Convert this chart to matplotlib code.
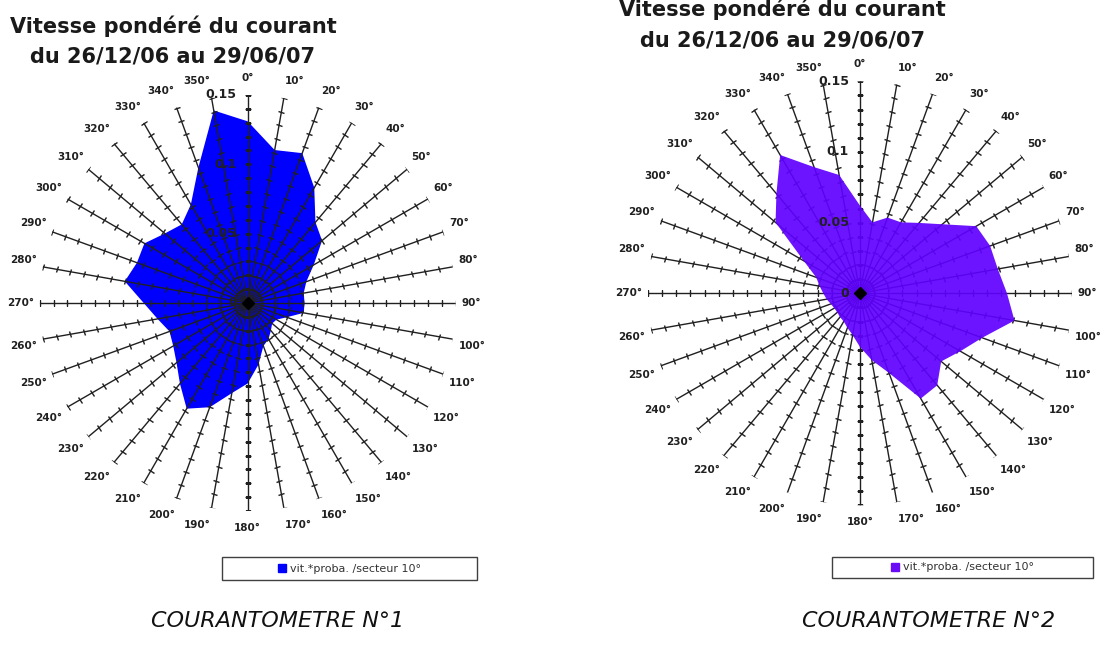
import numpy as np
import matplotlib.pyplot as plt
from matplotlib.markers import MarkerStyle
from matplotlib.transforms import Affine2D
from matplotlib.patches import Patch, Rectangle

# directions (degrés) et vitesse pondérée par secteur de 10°
secteurs = list(range(0, 360, 10))
courant1 = [0.131, 0.112, 0.115, 0.096, 0.076, 0.070, 0.055, 0.045, 0.041,
            0.041, 0.041, 0.030, 0.024, 0.023, 0.026, 0.030, 0.033, 0.045,
            0.058, 0.066, 0.080, 0.088, 0.076, 0.067, 0.062, 0.060, 0.066,
            0.075, 0.090, 0.085, 0.086, 0.078, 0.074, 0.082, 0.104, 0.141]
courant2 = [0.062, 0.051, 0.057, 0.058, 0.065, 0.076, 0.095, 0.098, 0.099,
            0.104, 0.111, 0.092, 0.082, 0.075, 0.085, 0.086, 0.060, 0.048,
            0.038, 0.030, 0.026, 0.023, 0.022, 0.021, 0.021, 0.022, 0.024,
            0.026, 0.029, 0.033, 0.046, 0.078, 0.092, 0.113, 0.095, 0.085]
graduations = [0, 0.05, 0.1, 0.15]
graduations_txt = ["0", "0.05", "0.1", "0.15"]
titre = ["Vitesse pondéré du courant", "du 26/12/06 au 29/06/07"]
legende = "vit.*proba. /secteur 10°"
noms = ["COURANTOMETRE N°1", "COURANTOMETRE N°2"]

RMAX = 0.15
W, H = 1102, 651
police = ['Liberation Sans Narrow', 'DejaVu Sans']

fig = plt.figure(figsize=(W / 100, H / 100), dpi=100)
fig.patch.set_facecolor('white')


def rose(cx, cy, R, valeurs, couleur, alpha, rayons_dessus):
    ax = fig.add_axes([(cx - R) / W, 1 - (cy + R) / H, 2 * R / W, 2 * R / H],
                      projection='polar')
    ax.set_theta_zero_location('N')
    ax.set_theta_direction(-1)
    ax.set_ylim(0, RMAX)
    ax.grid(False)
    ax.set_xticks([])
    ax.set_yticks([])
    ax.spines['polar'].set_visible(False)
    ax.patch.set_alpha(0)

    th = np.radians(secteurs + [secteurs[0]])
    ax.fill(th, valeurs + [valeurs[0]], color=couleur, alpha=alpha,
            lw=0, zorder=2)

    z = 3 if rayons_dessus else 1
    crans = np.arange(0.01, RMAX + 0.001, 0.01)
    for a in secteurs:
        t = np.radians(a)
        ax.plot([t, t], [0, RMAX], color='#202020', lw=1.0, zorder=z)
        m = MarkerStyle('|', transform=Affine2D().rotate_deg(90 - a))
        ax.plot([t] * len(crans), crans, ls='none', marker=m, ms=5,
                mec='#202020', mew=1.0, zorder=z)
        # étiquette de direction au bout du rayon
        s, c = np.sin(t), np.cos(t)
        ha = 'left' if s > 0.1 else ('right' if s < -0.1 else 'center')
        va = 'bottom' if c > 0.1 else ('top' if c < -0.1 else 'center')
        ax.annotate(f"{a}°", (t, RMAX), xytext=(6 * s, 12 * c),
                    textcoords='offset pixels', ha=ha, va=va,
                    fontsize=7.5, fontweight='bold', family=police,
                    color='#202020')

    # centre sombre
    ax.plot(0, 0, marker='D', ms=6, color='black', zorder=5)

    for g, txt in zip(graduations, graduations_txt):
        ax.annotate(txt, (0, g), xytext=(-11, 0), textcoords='offset pixels',
                    ha='right', va='center', fontsize=9, fontweight='bold',
                    family=police, color='#202020', zorder=4)
    return ax


rose(247.7, 303, 208, courant1, '#0000ff', 1.0, True)
rose(860, 293.3, 212, courant2, '#5f00ff', 0.92, False)

# titres
for x, y0 in [(173, 26), (782, 9)]:
    for i, ligne in enumerate(titre):
        fig.text(x / W, 1 - (y0 + 31 * i) / H, ligne, ha='center',
                 va='center', fontsize=15, fontweight='bold', color='#1a1a1a')

# légendes encadrées
for (x0, x1, y0, y1), couleur in [((222, 477, 557, 580), '#0000ff'),
                                  ((832, 1093, 557, 578), '#6b0af5')]:
    fig.patches.append(Rectangle((x0 / W, 1 - y1 / H), (x1 - x0) / W,
                                 (y1 - y0) / H, transform=fig.transFigure,
                                 fill=False, ec='#404040', lw=1))
    fig.legend(handles=[Patch(color=couleur, label=legende)],
               loc='center', bbox_to_anchor=((x0 + x1) / 2 / W,
                                             1 - (y0 + y1) / 2 / H),
               frameon=False, fontsize=8, handlelength=0.7,
               handleheight=0.7, handletextpad=0.4, borderpad=0,
               labelcolor='#333333')

# noms des appareils
for x, nom in [(278, noms[0]), (929, noms[1])]:
    fig.text(x / W, 1 - 621 / H, nom, ha='center', va='center',
             fontsize=16, style='italic', color='#111111')

fig.savefig('out.png', dpi=100, facecolor='white')
